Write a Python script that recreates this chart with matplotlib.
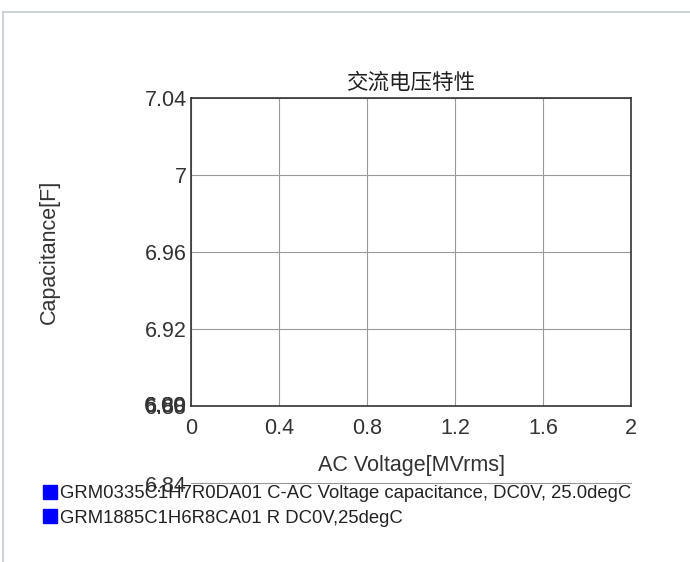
import matplotlib.pyplot as plt
from matplotlib.lines import Line2D
from matplotlib.patches import Rectangle

plt.rcParams['font.family'] = ['Liberation Sans', 'Noto Sans CJK SC', 'DejaVu Sans']

# 数据
title = '交流电压特性'
x_label = 'AC Voltage[MVrms]'
y_label = 'Capacitance[F]'
x_ticks = [0, 0.4, 0.8, 1.2, 1.6, 2]
x_tick_labels = ['0', '0.4', '0.8', '1.2', '1.6', '2']
y_ticks = [7.04, 7.0, 6.96, 6.92, 6.88]
y_tick_labels = ['7.04', '7', '6.96', '6.92', '6.88']
overlap_labels = ['6.80', '6.00']   # 重叠的刻度文字
stray_tick = 6.84
series_names = [
    'GRM0335C1H7R0DA01 C-AC Voltage capacitance, DC0V, 25.0degC',
    'GRM1885C1H6R8CA01 R DC0V,25degC',
]
series_x = [[], []]
series_y = [[], []]

W, H = 690, 562
fig = plt.figure(figsize=(W / 100, H / 100), dpi=100)
ax = fig.add_axes([191 / W, 1 - 406 / H, 440 / W, 308 / H])

for xs, ys, name in zip(series_x, series_y, series_names):
    ax.plot(xs, ys, color='#0000ff', label=name)

fs = 15.5
ax.set_xlim(0, 2)
ax.set_ylim(6.88, 7.04)
ax.set_xticks(x_ticks, x_tick_labels)
ax.set_yticks(y_ticks, y_tick_labels)
ax.tick_params(length=0, labelsize=fs, colors='#333333')
ax.tick_params(axis='x', pad=9)
ax.tick_params(axis='y', pad=3)
ax.grid(True, color='#999999', linewidth=0.8)
for s in ax.spines.values():
    s.set_color('#333333')
    s.set_linewidth(1.2)

ax.set_title(title, fontsize=15.5, pad=7, color='#222222')
ax.set_xlabel(x_label, fontsize=fs, color='#333333', labelpad=11)
ax.set_ylabel(y_label, fontsize=fs, color='#333333')
ax.yaxis.set_label_coords(-0.298, 0.5)

# 重叠的刻度文字
for lab in overlap_labels:
    ax.text(-0.02, 6.88, lab, ha='right', va='center', fontsize=fs,
            color='#333333', clip_on=False)
ax.text(-0.02, stray_tick - 0.002, '6.84', ha='right', va='center', fontsize=fs,
        color='#333333', clip_on=False)
ax.plot([0, 2], [stray_tick, stray_tick], color='#999999', linewidth=0.8,
        clip_on=False)

handles = [Line2D([], [], marker='s', linestyle='none', markersize=10.5,
                  markerfacecolor='#0000ff', markeredgecolor='#0000ff')
           for _ in series_names]
fig.legend(handles, series_names, loc='upper left',
           bbox_to_anchor=(37 / W, 1 - 478 / H), frameon=False,
           handlelength=0.6, handletextpad=0.25, labelspacing=0.4,
           fontsize=13.3, labelcolor='#222222', borderaxespad=0)

# 外框
fig.add_artist(Rectangle((3 / W, -0.1), 1.2, 1 - 12 / H + 0.1,
                         transform=fig.transFigure, fill=False,
                         edgecolor='#cfd3d6', linewidth=1.5))

fig.savefig('out.png', dpi=100)
